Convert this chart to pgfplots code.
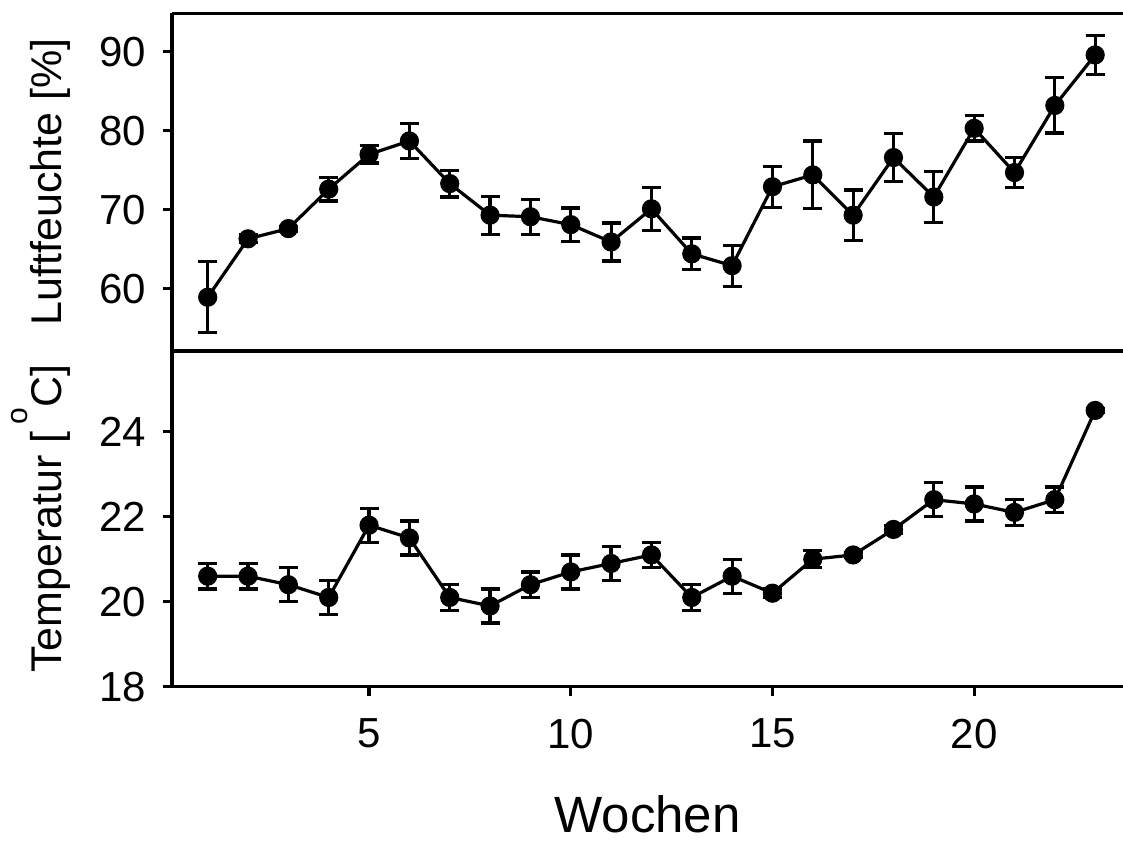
\documentclass[border=0pt]{standalone}
\usepackage{pgfplots}
\pgfplotsset{compat=1.18}
\usepackage{fontspec}
\setmainfont{Liberation Sans}

\pgfplotstableread{
x y e
1 58.9 4.5
2 66.3 0.5
3 67.6 0.3
4 72.6 1.5
5 77.0 1.1
6 78.7 2.2
7 73.3 1.7
8 69.3 2.4
9 69.1 2.2
10 68.1 2.1
11 65.9 2.4
12 70.1 2.7
13 64.4 2.0
14 62.9 2.6
15 72.9 2.6
16 74.4 4.3
17 69.3 3.2
18 76.6 3.0
19 71.6 3.2
20 80.3 1.6
21 74.7 1.9
22 83.2 3.5
23 89.6 2.5
}\feuchte

\pgfplotstableread{
x y e
1 20.6 0.3
2 20.6 0.3
3 20.4 0.4
4 20.1 0.4
5 21.8 0.4
6 21.5 0.4
7 20.1 0.3
8 19.9 0.4
9 20.4 0.3
10 20.7 0.4
11 20.9 0.4
12 21.1 0.3
13 20.1 0.3
14 20.6 0.4
15 20.2 0.1
16 21.0 0.2
17 21.1 0.05
18 21.7 0.1
19 22.4 0.4
20 22.3 0.4
21 22.1 0.3
22 22.4 0.3
23 24.5 0.05
}\temperatur

\pgfplotsset{
  panel/.style={
    scale only axis, width=475.5pt,
    xmin=0.115, xmax=23.69,
    axis line style={line width=1.6pt},
    axis y line*=left, axis x line*=box,
    tick align=outside, ytick pos=left, xtick pos=bottom,
    major tick style={line width=1.6pt, black},
    major tick length=4.5pt,
    tick label style={font=\fontsize{21}{25}\selectfont},
    yticklabel style={xshift=-5pt},
    xticklabel style={yshift=-8pt},
    /pgf/number format/assume math mode=true,
    ylabel style={font=\fontsize{21.5}{25}\selectfont, rotate=0,
      at={(axis description cs:-0.1162,0.5)}, anchor=base},
    clip=false,
  },
  serie/.style={black, line width=1.6pt, mark=*,
    mark size=4.5pt, mark options={fill=black, line width=0.6pt},
    error bars/.cd, y dir=both, y explicit,
    error bar style={line width=1.6pt},
    error mark options={rotate=90, mark size=4.75pt, line width=1.6pt}},
}

\begin{document}
\begin{tikzpicture}
\begin{axis}[panel, name=top, height=168.9pt,
  ymin=52.1, ymax=94.9, ytick={60,70,80,90},
  xtick=\empty,
  ylabel={Luftfeuchte [\%]}]
\addplot[serie] table[x=x, y=y, y error=e] {\feuchte};
\end{axis}
\begin{axis}[panel, name=bot, height=167.9pt,
  at={(top.south west)}, anchor=north west,
  ymin=18, ymax=25.9, ytick={18,20,22,24},
  xtick={5,10,15,20},
  ylabel={Temperatur [\,\raisebox{17pt}{\fontsize{15}{15}\selectfont o}C]},
  xlabel={Wochen},
  xlabel style={font=\fontsize{25.5}{30}\selectfont,
    at={(axis description cs:0.5,-0.4350)}, anchor=base}]
\addplot[serie] table[x=x, y=y, y error=e] {\temperatur};
\end{axis}
\pgfresetboundingbox
\path ([shift={(-86pt,-77.15pt)}]bot.south west)
  rectangle ([shift={(475.5pt,343.35pt)}]bot.south west);
\end{tikzpicture}
\end{document}
